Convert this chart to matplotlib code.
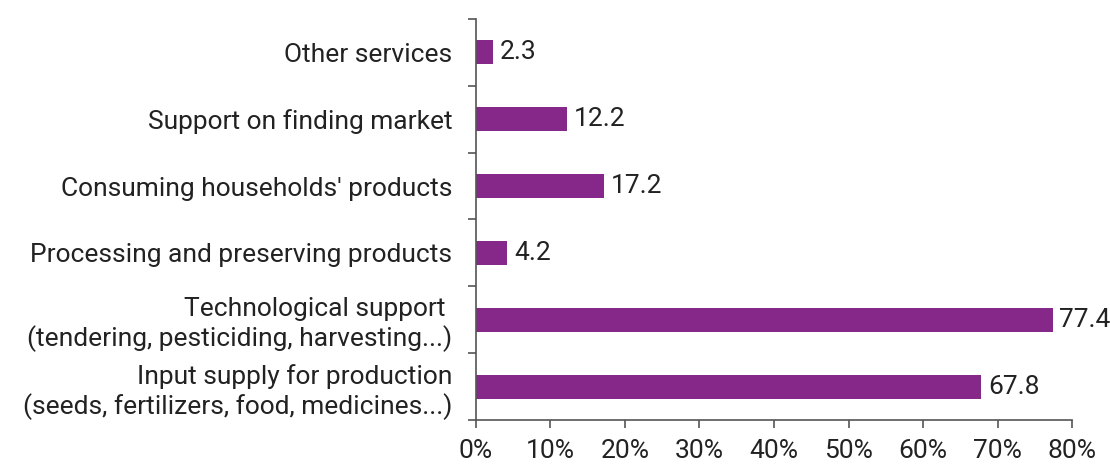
import matplotlib
matplotlib.use("Agg")
import matplotlib.pyplot as plt
from matplotlib.ticker import FixedLocator, FuncFormatter

# services received, bottom to top
categories = [
    "Input supply for production\n(seeds, fertilizers, food, medicines...)",
    "Technological support \n(tendering, pesticiding, harvesting...)",
    "Processing and preserving products",
    "Consuming households' products",
    "Support on finding market",
    "Other services",
]
values = [67.8, 77.4, 4.2, 17.2, 12.2, 2.3]
x_ticks = [0, 10, 20, 30, 40, 50, 60, 70, 80]

bar_color = "#85288A"
text_color = "#222222"
axis_color = "#555555"
fs = 19

plt.rcParams['font.family'] = ['Roboto', 'DejaVu Sans']

fig = plt.figure(figsize=(11.1, 4.65), dpi=100)
ax = fig.add_axes([0.4288, 0.0968, 0.5370, 0.8624])

pos = list(range(len(categories)))
ax.barh(pos, values, height=0.36, color=bar_color)
for p, v in zip(pos, values):
    ax.text(v + 0.9, p, f"{v:.1f}", va="center", ha="left",
            fontsize=fs, color=text_color)

ax.set_xlim(0, 80)
ax.set_ylim(-0.5, len(categories) - 0.5)
ax.set_xticks(x_ticks)
ax.xaxis.set_major_formatter(FuncFormatter(lambda x, _: f"{x:.0f}%"))

# category names sit between tick marks drawn at the bar boundaries
ax.set_yticks(pos, minor=True)
ax.set_yticklabels(categories, minor=True, linespacing=1.1)
ax.yaxis.set_major_locator(FixedLocator([p - 0.5 for p in pos] + [len(pos) - 0.5]))
ax.set_yticklabels([])
ax.tick_params(axis="y", which="minor", length=0, pad=17,
               labelsize=fs, labelcolor=text_color)
ax.tick_params(axis="y", which="major", length=6, width=1.2, color=axis_color)
ax.tick_params(axis="x", length=6, width=1.2, color=axis_color,
               labelsize=fs, labelcolor=text_color, pad=8)

for side in ("top", "right"):
    ax.spines[side].set_visible(False)
for side in ("left", "bottom"):
    ax.spines[side].set_color(axis_color)
    ax.spines[side].set_linewidth(1.2)

fig.savefig("out.png", dpi=100)
